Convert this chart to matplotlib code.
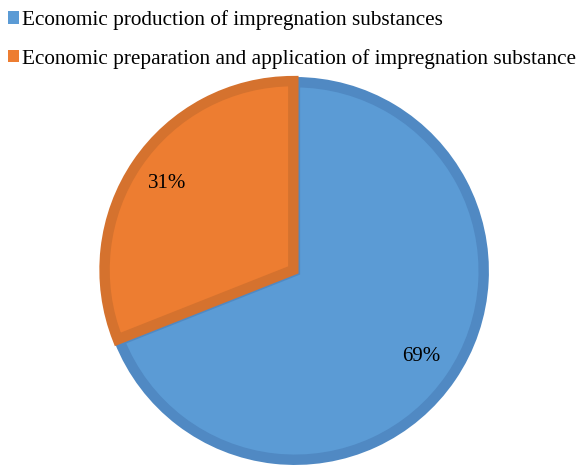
import matplotlib.pyplot as plt
from matplotlib.patches import Patch

labels = ['Economic production of impregnation substances',
          'Economic preparation and application of impregnation substance']
shares = [69, 31]
fills = ['#5b9bd5', '#ed7d31']
edges = ['#5089c3', '#d5722e']
explode = [0, 0.01]

plt.rcParams['font.family'] = ['Liberation Serif', 'DejaVu Serif']

fig = plt.figure(figsize=(5.8, 4.66), dpi=100)
ax = fig.add_axes([0.174, 0.002, 0.669, 0.833])

wedges, texts, autotexts = ax.pie(
    shares, explode=explode, colors=fills, startangle=90, counterclock=False,
    radius=0.973, autopct='%1.0f%%', pctdistance=0.81,
    wedgeprops=dict(linewidth=7.5),
    textprops=dict(fontsize=15, color='black'))
for w, ec in zip(wedges, edges):
    w.set_edgecolor(ec)
    w.set_joinstyle('miter')
ax.set_xlim(-1, 1)
ax.set_ylim(-1, 1)
ax.set_aspect('equal')
ax.axis('off')

handles = [Patch(facecolor=c, edgecolor='none') for c in fills]
fig.legend(handles, labels, loc='upper left', bbox_to_anchor=(-0.009, 1.005),
           frameon=False, fontsize=15.3, handlelength=0.55, handleheight=0.55,
           handletextpad=0.15, labelspacing=0.86, borderaxespad=0.2)

fig.savefig('out.png', dpi=100)
